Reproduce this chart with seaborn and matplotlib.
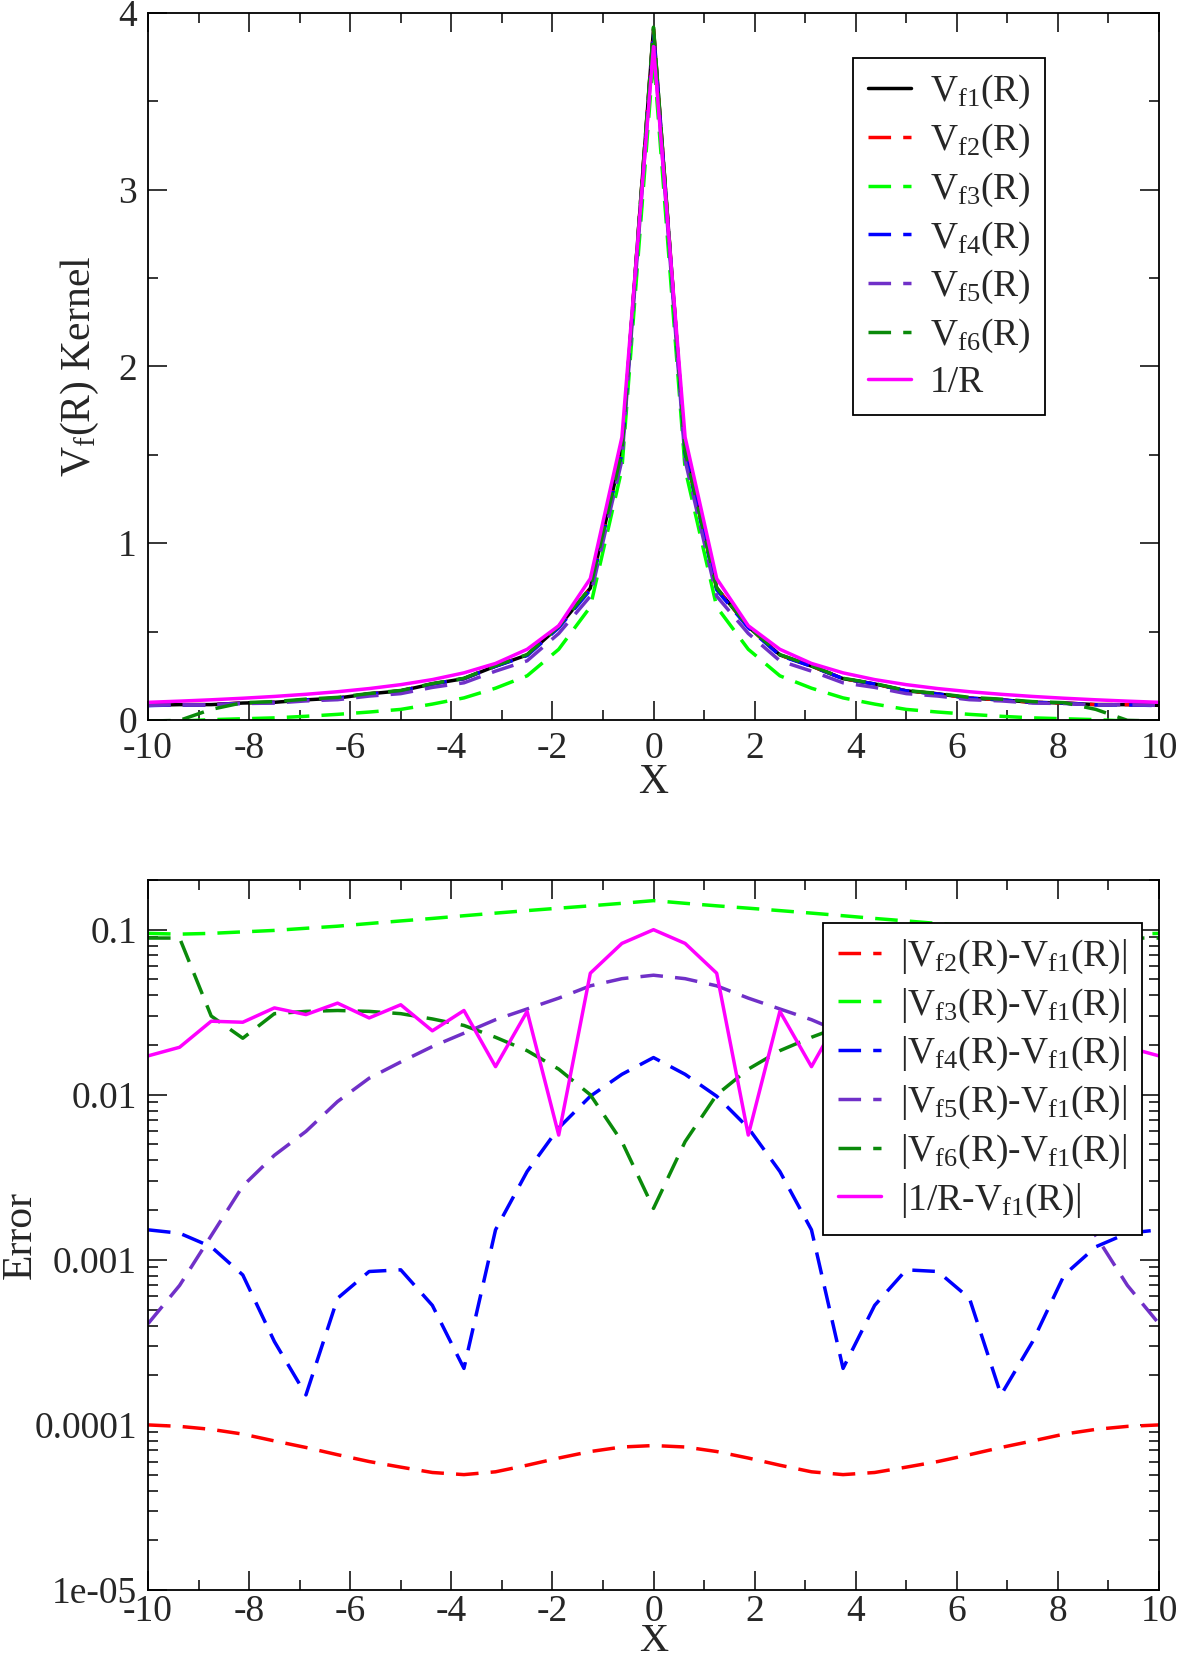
import matplotlib
matplotlib.use("Agg")
import matplotlib.pyplot as plt
import matplotlib.ticker as mticker
import seaborn as sns

# grille en X
x = [-10, -9.375, -8.75, -8.125, -7.5, -6.875, -6.25, -5.625, -5, -4.375, -3.75, -3.125, -2.5, -1.875, -1.25, -0.625, 0,
     0.625, 1.25, 1.875, 2.5, 3.125, 3.75, 4.375, 5, 5.625, 6.25, 6.875, 7.5, 8.125, 8.75, 9.375, 10]

# noyaux (panneau du haut)
vf1 = [0.083, 0.087, 0.087, 0.096, 0.100, 0.114, 0.124, 0.148, 0.165, 0.204, 0.234, 0.305, 0.368, 0.528, 0.746, 1.52, 3.91,
       1.52, 0.746, 0.528, 0.368, 0.305, 0.234, 0.204, 0.165, 0.148, 0.124, 0.114, 0.100, 0.096, 0.087, 0.087, 0.083]
vf2 = [0.0831, 0.0871, 0.0871, 0.0961, 0.1001, 0.1141, 0.1241, 0.1481, 0.1651, 0.2041, 0.2341, 0.3051, 0.3681, 0.5281, 0.7461, 1.5201, 3.9101,
       1.5201, 0.7461, 0.5281, 0.3681, 0.3051, 0.2341, 0.2041, 0.1651, 0.1481, 0.1241, 0.1141, 0.1001, 0.0961, 0.0871, 0.0871, 0.0831]
vf3 = [-0.01, -0.006, 0.002, 0.007, 0.012, 0.021, 0.032, 0.045, 0.06, 0.09, 0.125, 0.18, 0.25, 0.40, 0.64, 1.42, 3.76,
       1.42, 0.64, 0.40, 0.25, 0.18, 0.125, 0.09, 0.06, 0.045, 0.032, 0.021, 0.012, 0.007, 0.002, -0.006, -0.01]
vf4 = [0.0815, 0.0855, 0.0859, 0.0952, 0.0997, 0.1138, 0.1234, 0.1471, 0.1641, 0.2035, 0.2338, 0.3035, 0.3646, 0.5217, 0.7362, 1.5067, 3.893,
       1.5067, 0.7362, 0.5217, 0.3646, 0.3035, 0.2338, 0.2035, 0.1641, 0.1471, 0.1234, 0.1138, 0.0997, 0.0952, 0.0859, 0.0855, 0.0815]
vf5 = [0.0826, 0.0863, 0.0856, 0.0932, 0.0957, 0.108, 0.1149, 0.1354, 0.1492, 0.1844, 0.2104, 0.2765, 0.3349, 0.4895, 0.7003, 1.4695, 3.857,
       1.4695, 0.7003, 0.4895, 0.3349, 0.2765, 0.2104, 0.1844, 0.1492, 0.1354, 0.1149, 0.108, 0.0957, 0.0932, 0.0856, 0.0863, 0.0826]
vf6 = [-0.006, -0.002, 0.060, 0.098, 0.104, 0.118, 0.128, 0.150, 0.167, 0.206, 0.236, 0.307, 0.370, 0.530, 0.748, 1.52, 3.92,
       1.52, 0.748, 0.530, 0.370, 0.307, 0.236, 0.206, 0.167, 0.150, 0.128, 0.118, 0.104, 0.098, 0.060, -0.002, -0.006]
inv_r = [0.1, 0.1067, 0.1143, 0.1231, 0.1333, 0.1455, 0.16, 0.1778, 0.2, 0.2286, 0.2667, 0.32, 0.4, 0.5333, 0.8, 1.6, 3.81,
         1.6, 0.8, 0.5333, 0.4, 0.32, 0.2667, 0.2286, 0.2, 0.1778, 0.16, 0.1455, 0.1333, 0.1231, 0.1143, 0.1067, 0.1]

# erreurs (panneau du bas)
err2 = [1.0e-4, 0.98e-4, 0.94e-4, 0.88e-4, 0.80e-4, 0.73e-4, 0.66e-4, 0.60e-4, 0.555e-4, 0.515e-4, 0.50e-4, 0.52e-4, 0.57e-4, 0.63e-4, 0.69e-4, 0.735e-4, 0.75e-4,
        0.735e-4, 0.69e-4, 0.63e-4, 0.57e-4, 0.52e-4, 0.50e-4, 0.515e-4, 0.555e-4, 0.60e-4, 0.66e-4, 0.73e-4, 0.80e-4, 0.88e-4, 0.94e-4, 0.98e-4, 1.0e-4]
err3 = [0.095, 0.094, 0.095, 0.097, 0.099, 0.102, 0.105, 0.109, 0.113, 0.117, 0.1215, 0.126, 0.1305, 0.135, 0.1395, 0.1445, 0.150,
        0.1445, 0.1395, 0.135, 0.1305, 0.126, 0.1215, 0.117, 0.113, 0.109, 0.105, 0.102, 0.099, 0.097, 0.095, 0.094, 0.095]
err4 = [0.00152, 0.00145, 0.0012, 0.00081, 0.00032, 0.000152, 0.000585, 0.00085, 0.00087, 0.00053, 0.00022, 0.00152, 0.00343, 0.0063, 0.0098, 0.0133, 0.0168,
        0.0133, 0.0098, 0.0063, 0.00343, 0.00152, 0.00022, 0.00053, 0.00087, 0.00085, 0.000585, 0.000152, 0.00032, 0.00081, 0.0012, 0.00145, 0.00152]
err5 = [0.00041, 0.0007, 0.0014, 0.0028, 0.0043, 0.006, 0.0091, 0.0126, 0.0158, 0.0196, 0.0236, 0.0285, 0.0331, 0.0385, 0.0457, 0.0505, 0.053,
        0.0505, 0.0457, 0.0385, 0.0331, 0.0285, 0.0236, 0.0196, 0.0158, 0.0126, 0.0091, 0.006, 0.0043, 0.0028, 0.0014, 0.0007, 0.00041]
err6 = [0.089, 0.089, 0.030, 0.022, 0.031, 0.032, 0.0324, 0.032, 0.031, 0.0288, 0.0263, 0.0223, 0.0185, 0.0143, 0.0100, 0.0052, 0.00205,
        0.0052, 0.0100, 0.0143, 0.0185, 0.0223, 0.0263, 0.0288, 0.031, 0.032, 0.0324, 0.032, 0.031, 0.022, 0.030, 0.089, 0.089]
err_r = [0.0172, 0.0194, 0.0279, 0.0275, 0.0336, 0.0306, 0.0359, 0.0292, 0.0351, 0.0244, 0.0324, 0.0148, 0.0320, 0.0057, 0.0545, 0.0826, 0.100,
         0.0826, 0.0545, 0.0057, 0.0320, 0.0148, 0.0324, 0.0244, 0.0351, 0.0292, 0.0359, 0.0306, 0.0336, 0.0275, 0.0279, 0.0194, 0.0172]

colors = ["black", "#ff0000", "#00ff00", "#0000ff", "#7030c8", "#0a8a0a", "#ff00ff"]
dash = (0, (6.5, 3.5))

sns.set_style("ticks")
plt.rcParams["font.family"] = ["Liberation Serif", "DejaVu Serif"]
plt.rcParams["mathtext.fontset"] = "custom"
plt.rcParams["mathtext.rm"] = "Liberation Serif"
plt.rcParams["mathtext.it"] = "Liberation Serif"

fig = plt.figure(figsize=(11.79, 16.62), dpi=100)
ax1 = fig.add_axes([148 / 1179, 1 - 720 / 1662, 1011 / 1179, 707 / 1662])
ax2 = fig.add_axes([148 / 1179, 1 - 1590 / 1662, 1011 / 1179, 710 / 1662])


def style_axes(ax):
    for s in ax.spines.values():
        s.set_linewidth(1.3)
        s.set_color("black")
    ax.tick_params(which="both", direction="in", top=True, right=True, labelsize=27, color="black", width=1.1)
    ax.tick_params(which="major", length=14, pad=8)
    ax.tick_params(which="minor", length=7)


legend_kw = dict(loc="upper left", fontsize=27, frameon=True, fancybox=False, edgecolor="black", framealpha=1,
                 handlelength=1.15, handletextpad=0.5, labelspacing=0.28, borderpad=0.4, borderaxespad=0)

# --- panneau du haut ---
top_series = [vf1, vf2, vf3, vf4, vf5, vf6, inv_r]
top_labels = [r"$\mathregular{V_{f1}(R)}$", r"$\mathregular{V_{f2}(R)}$", r"$\mathregular{V_{f3}(R)}$",
              r"$\mathregular{V_{f4}(R)}$", r"$\mathregular{V_{f5}(R)}$", r"$\mathregular{V_{f6}(R)}$", "1/R"]
for i, (ys, lab) in enumerate(zip(top_series, top_labels)):
    ls = "-" if i in (0, 6) else dash
    sns.lineplot(x=x, y=ys, ax=ax1, color=colors[i], linestyle=ls, linewidth=2.5, label=lab)

ax1.set_xlim(-10, 10)
ax1.set_ylim(0, 4)
ax1.xaxis.set_major_locator(mticker.MultipleLocator(2))
ax1.xaxis.set_minor_locator(mticker.MultipleLocator(1))
ax1.yaxis.set_major_locator(mticker.MultipleLocator(1))
ax1.yaxis.set_minor_locator(mticker.MultipleLocator(0.5))
ax1.xaxis.set_major_formatter(mticker.FuncFormatter(lambda v, p: f"{v:.0f}"))
ax1.yaxis.set_major_formatter(mticker.FuncFormatter(lambda v, p: f"{v:.0f}"))
style_axes(ax1)
ax1.set_xlabel("X", fontsize=30)
ax1.set_ylabel(r"$\mathregular{V_f(R)}$ Kernel", fontsize=30)
ax1.xaxis.set_label_coords(0.5, -0.062)
ax1.yaxis.set_label_coords(-0.046, 0.5)
leg1 = ax1.legend(bbox_to_anchor=(0.697, 0.936), **legend_kw)
leg1.get_frame().set_linewidth(1.3)

# --- panneau du bas ---
bot_series = [err2, err3, err4, err5, err6, err_r]
bot_labels = [r"$\mathregular{|V_{f2}(R)}$-$\mathregular{V_{f1}(R)|}$", r"$\mathregular{|V_{f3}(R)}$-$\mathregular{V_{f1}(R)|}$",
              r"$\mathregular{|V_{f4}(R)}$-$\mathregular{V_{f1}(R)|}$", r"$\mathregular{|V_{f5}(R)}$-$\mathregular{V_{f1}(R)|}$",
              r"$\mathregular{|V_{f6}(R)}$-$\mathregular{V_{f1}(R)|}$", r"|1/R-$\mathregular{V_{f1}(R)|}$"]
for i, (ys, lab) in enumerate(zip(bot_series, bot_labels)):
    ls = "-" if i == 5 else dash
    sns.lineplot(x=x, y=ys, ax=ax2, color=colors[i + 1], linestyle=ls, linewidth=2.5, label=lab)

ax2.set_yscale("log")
ax2.set_xlim(-10, 10)
ax2.set_ylim(1e-5, 0.2)
ax2.xaxis.set_major_locator(mticker.MultipleLocator(2))
ax2.xaxis.set_minor_locator(mticker.MultipleLocator(1))
ax2.xaxis.set_major_formatter(mticker.FuncFormatter(lambda v, p: f"{v:.0f}"))
ax2.yaxis.set_major_locator(mticker.LogLocator(base=10, numticks=10))
ax2.yaxis.set_minor_locator(mticker.LogLocator(base=10, subs=range(2, 10), numticks=20))
ax2.yaxis.set_minor_formatter(mticker.NullFormatter())
ax2.yaxis.set_major_formatter(mticker.FuncFormatter(lambda v, p: "1e-05" if v < 5e-5 else f"{v:g}"))
style_axes(ax2)
ax2.tick_params(axis="x", which="major", pad=3)
ax2.set_xlabel("X", fontsize=29)
ax2.set_ylabel("Error", fontsize=30)
ax2.xaxis.set_label_coords(0.5, -0.047)
ax2.yaxis.set_label_coords(-0.107, 0.5)
leg2 = ax2.legend(bbox_to_anchor=(0.668, 0.94), **legend_kw)
leg2.get_frame().set_linewidth(1.3)

fig.savefig("out.png", dpi=100)
